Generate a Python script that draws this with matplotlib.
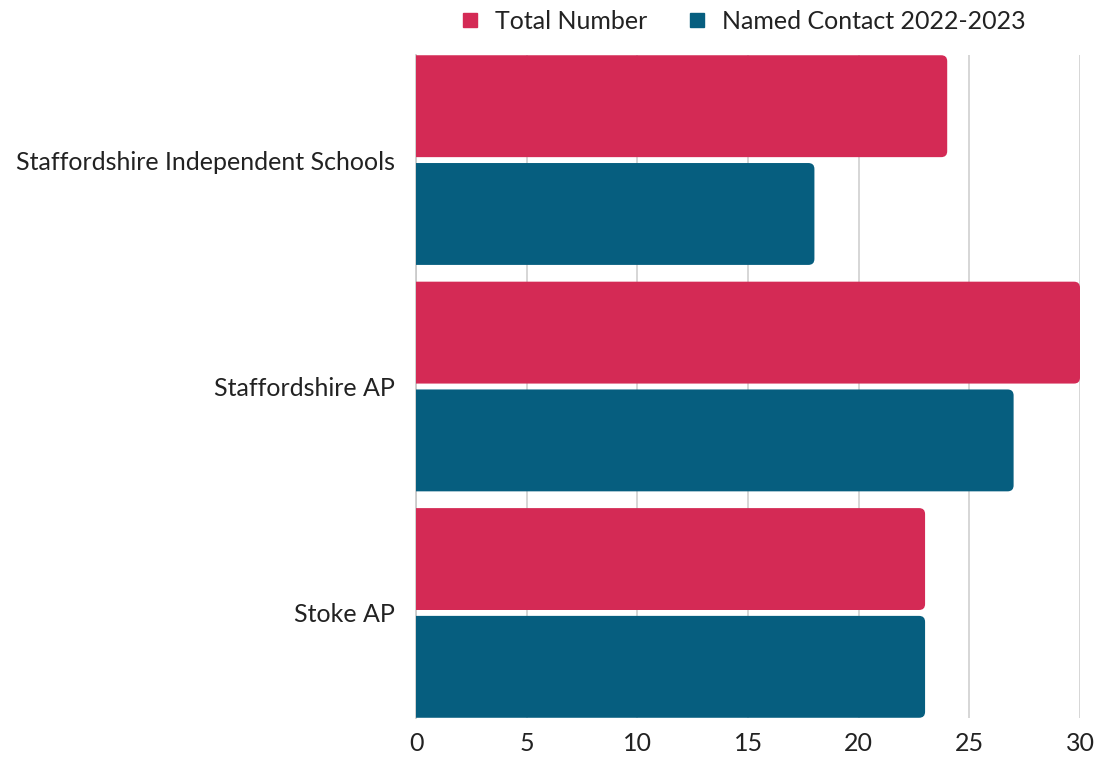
import matplotlib
matplotlib.use("Agg")
import matplotlib.pyplot as plt
from matplotlib.patches import FancyBboxPatch
from matplotlib.lines import Line2D

categories = ["Staffordshire Independent Schools", "Staffordshire AP", "Stoke AP"]
total_number = [24, 30, 23]
named_contact = [18, 27, 23]
series_names = ["Total Number", "Named Contact 2022-2023"]
colors = ["#D42A55", "#065E7F"]
x_ticks = [0, 5, 10, 15, 20, 25, 30]

plt.rcParams["font.family"] = ["Lato", "DejaVu Sans"]

fig = plt.figure(figsize=(10.94, 7.61), dpi=100)
ax = fig.add_axes([0.3803, 0.0565, 0.6069, 0.8712])

bar_h = 0.45
gap = 0.026
offsets = [-(gap / 2 + bar_h / 2), gap / 2 + bar_h / 2]

ax.set_xlim(0, 30)
ax.set_ylim(2.464, -0.464)

# rounded right ends: rounding in x-units, aspect corrects for the y scale
fig.canvas.draw()
bbox = ax.get_window_extent()
px_x = bbox.width / 30.0
px_y = bbox.height / (2.464 + 0.464)
r_px = 6
rounding = r_px / px_x
aspect = px_x / px_y

for vals, off, col in zip([total_number, named_contact], offsets, colors):
    for i, v in enumerate(vals):
        y0 = i + off - bar_h / 2
        patch = FancyBboxPatch((-1, y0), v + 1, bar_h,
                               boxstyle=f"round,pad=0,rounding_size={rounding}",
                               mutation_aspect=aspect,
                               facecolor=col, edgecolor="none", zorder=3)
        ax.add_patch(patch)

ax.set_xticks(x_ticks)
ax.set_xticklabels([str(t) for t in x_ticks], fontsize=18, color="#222222")
ax.set_yticks(range(len(categories)))
ax.set_yticklabels(categories, fontsize=18, color="#222222")
ax.tick_params(axis="both", length=0)
ax.tick_params(axis="y", pad=15)
ax.tick_params(axis="x", pad=10)

ax.grid(axis="x", color="#d0d0d0", linewidth=1.2, zorder=0)
ax.set_axisbelow(True)
for s in ["top", "right", "bottom"]:
    ax.spines[s].set_visible(False)
ax.spines["left"].set_color("#c8c8c8")
ax.spines["left"].set_linewidth(1.2)

handles = [Line2D([], [], marker="s", linestyle="none", markersize=10,
                  markerfacecolor=c, markeredgecolor=c) for c in colors]
fig.legend(handles, series_names, loc="center", bbox_to_anchor=(0.6764, 0.972),
           ncol=2, frameon=False, fontsize=18, handletextpad=0.4,
           columnspacing=1.4, handlelength=1.2, labelcolor="#222222")

fig.savefig("out.png", dpi=100)
